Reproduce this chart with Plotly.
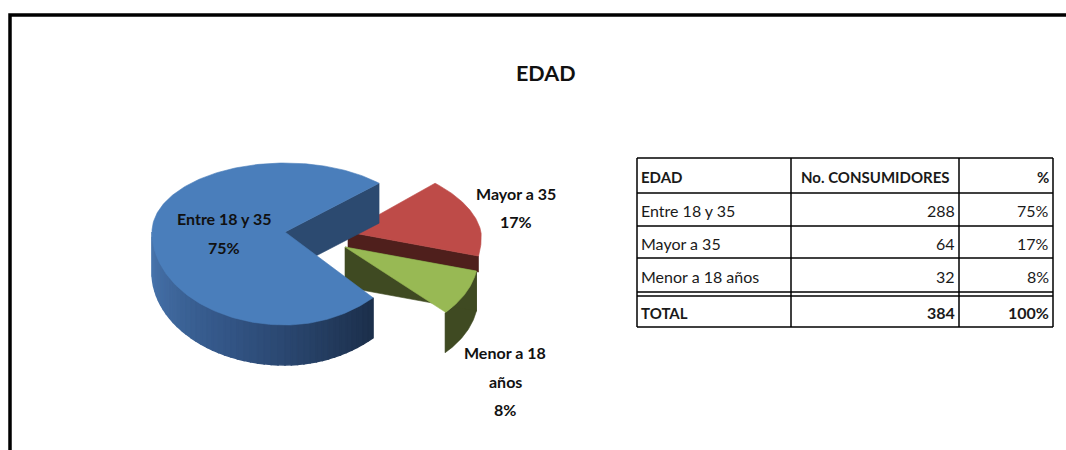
import math
import plotly.graph_objects as go

TITLE = "EDAD"
categories = ["Entre 18 y 35", "Mayor a 35", "Menor a 18 años"]
consumers = [288, 64, 32]
percent_labels = ["75%", "17%", "8%"]
total_label = "TOTAL"
total_consumers = 384
total_percent = "100%"
headers = ["EDAD", "No. CONSUMIDORES", "%"]
slice_labels = [["Entre 18 y 35", "75%"], ["Mayor a 35", "17%"], ["Menor a 18", "años", "8%"]]

top_colors = ["#4a7ebb", "#be4b48", "#98b954"]
wall_colors = ["#2c4a70", "#4f1f1c", "#3f4a22"]
apexes = [(285, 232), (348, 232), (345, 247)]
skews = [(12, 0), (-8, -14), (-12, 0)]  # (lower right, upper right) perspective lean
label_pos = [(224, 233), (516, 207.5), (505, 381)]

RX, RY_UP, RY_DOWN, DEPTH = 133, 69, 93, 40
RED_VISIBLE_DEPTH = 16  # the rest of the red wall is hidden behind the green slice
FONT = "Lato, sans-serif"
col_edges = [637, 791, 959, 1053]
row_edges = [158, 193, 226, 258, 292, 296, 327]


def pt(apex, deg, drop=0, skew=(0, 0)):
    a = math.radians(deg)
    s, c = math.sin(a), math.cos(a)
    shift = 0
    if c > 0:
        shift = (skew[0] if s < 0 else skew[1]) * s * c
    return apex[0] + RX * c + shift, apex[1] - s * (RY_UP if s > 0 else RY_DOWN) + drop


def arc(apex, a0, a1, drop=0, n=80, skew=(0, 0)):
    return [pt(apex, a0 + (a1 - a0) * i / n, drop, skew) for i in range(n + 1)]


def poly(points, color, name="", lw=0.6):
    xs = [p[0] for p in points] + [points[0][0]]
    ys = [p[1] for p in points] + [points[0][1]]
    return go.Scatter(x=xs, y=ys, mode="lines", fill="toself", fillcolor=color,
                      line=dict(color=color, width=lw), hoverinfo="skip",
                      name=name, showlegend=False)


def mix(c0, c1, t):
    return "rgb(%d,%d,%d)" % tuple(c0[i] + (c1[i] - c0[i]) * t for i in range(3))


# slices run clockwise from the lower right (-45 deg), sizes follow the data
total = sum(consumers)
start = -45
spans = []
for v in consumers:
    sweep = 360 * v / total
    spans.append((start - sweep, start))
    start -= sweep
fig = go.Figure()

# red (behind)
a0, a1 = spans[1]
apex, sk = apexes[1], skews[1]
fig.add_trace(poly([apex, (apex[0], apex[1] + RED_VISIBLE_DEPTH),
                    pt(apex, a0, RED_VISIBLE_DEPTH, sk), pt(apex, a0, 0, sk)], wall_colors[1]))
fig.add_trace(poly([apex] + arc(apex, a0, a1, skew=sk), top_colors[1], categories[1]))

# green
a0, a1 = spans[2]
apex, sk = apexes[2], skews[2]
fig.add_trace(poly(arc(apex, a0, a1, skew=sk) + arc(apex, a1, a0, DEPTH, skew=sk), wall_colors[2]))
fig.add_trace(poly([apex, (apex[0], apex[1] + DEPTH), pt(apex, a1, DEPTH, sk), pt(apex, a1, 0, sk)], wall_colors[2]))
fig.add_trace(poly([apex] + arc(apex, a0, a1, skew=sk), top_colors[2], categories[2]))

# blue
a0, a1 = spans[0]
apex, sk = apexes[0], skews[0]
fig.add_trace(poly([apex, (apex[0], apex[1] + DEPTH), pt(apex, a0, DEPTH, sk), pt(apex, a0, 0, sk)], wall_colors[0]))
c_left, c_mid, c_right = (74, 120, 176), (50, 84, 132), (28, 48, 76)
bands = 45
side0, side1 = -180, a1
for i in range(bands):
    b0 = side0 + (side1 - side0) * i / bands
    b1 = side0 + (side1 - side0) * (i + 1) / bands
    t = i / (bands - 1)
    col = mix(c_left, c_mid, t * 2) if t < 0.5 else mix(c_mid, c_right, t * 2 - 1)
    fig.add_trace(poly(arc(apex, b0, b1, 0, 4, sk) + arc(apex, b1, b0, DEPTH, 4, sk), col, lw=1.5))
fig.add_trace(poly([apex] + arc(apex, a0, a1, 0, 240, sk), top_colors[0], categories[0]))

LINE = dict(color="black", width=1.5)
shapes = [dict(type="path", path="M 1066 15 L 10 15 L 10 450",
               line=dict(color="black", width=3.5), layer="above")]
for y in row_edges:
    shapes.append(dict(type="line", x0=col_edges[0], x1=col_edges[-1], y0=y, y1=y, line=LINE))
for x in col_edges:
    shapes.append(dict(type="line", x0=x, x1=x, y0=row_edges[0], y1=row_edges[-1], line=LINE))

annotations = [dict(x=546, y=73, text=f"<b>{TITLE}</b>", showarrow=False,
                    font=dict(family=FONT, size=21.5, color="#111"))]
LINE_GAP = 28.5
for (x, y), lines in zip(label_pos, slice_labels):
    for i, text in enumerate(lines):
        annotations.append(dict(x=x, y=y + (i - (len(lines) - 1) / 2) * LINE_GAP,
                                text=f"<b>{text}</b>", showarrow=False,
                                font=dict(family=FONT, size=16, color="#111")))


def cell(col, y0, y1, text, anchor, bold=False, size=16):
    if anchor == "left":
        x = col_edges[col] + 2
    elif anchor == "right":
        x = col_edges[col + 1] - 2
    else:
        x = (col_edges[col] + col_edges[col + 1]) / 2
    return dict(x=x, y=(y0 + y1) / 2 + 1, text=f"<b>{text}</b>" if bold else str(text),
                xanchor=anchor, showarrow=False,
                font=dict(family=FONT, size=size, color="#1a1a1a"))


for col, (h, anchor) in enumerate(zip(headers, ["left", "center", "right"])):
    annotations.append(cell(col, row_edges[0], row_edges[1], h, anchor, True, 15))
for r in range(len(categories)):
    y0, y1 = row_edges[r + 1], row_edges[r + 2]
    annotations.append(cell(0, y0, y1, categories[r], "left"))
    annotations.append(cell(1, y0, y1, consumers[r], "right"))
    annotations.append(cell(2, y0, y1, percent_labels[r], "right"))
y0, y1 = row_edges[5], row_edges[6]
annotations.append(cell(0, y0, y1, total_label, "left", True, 15))
annotations.append(cell(1, y0, y1, total_consumers, "right", True))
annotations.append(cell(2, y0, y1, total_percent, "right", True))

fig.update_layout(
    width=1066, height=450, margin=dict(l=0, r=0, t=0, b=0),
    paper_bgcolor="white", plot_bgcolor="white", showlegend=False,
    xaxis=dict(range=[0, 1066], visible=False, fixedrange=True, domain=[0, 1]),
    yaxis=dict(range=[450, 0], visible=False, fixedrange=True, domain=[0, 1]),
    shapes=shapes, annotations=annotations,
)
fig.write_html("out.html", config={"displayModeBar": False},
               post_script="document.body.style.margin='0';document.documentElement.style.overflow='hidden';")
